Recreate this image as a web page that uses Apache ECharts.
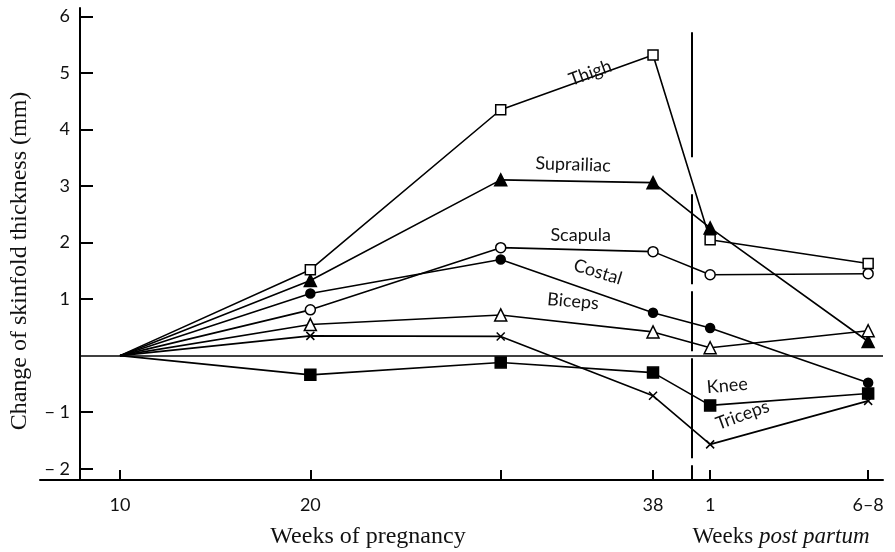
<!DOCTYPE html>
<html lang="en">

<head>
  <meta charset="UTF-8" />
  <title>Skinfold thickness</title>
  <script src="https://cdn.jsdelivr.net/npm/echarts@6/dist/echarts.min.js"></script>
</head>

<body style="margin:0">
  <div id="main" style="width: 895px;height:552px;"></div>
  <script type="text/javascript">
    // x positions (weeks of pregnancy, then post partum points placed after the break)
    var weeks = [10, 20, 30, 38, 41, 49.3]
    var tickLabels = { 10: '10', 20: '20', 38: '38', 41: '1', 49.3: '6–8' }
    var yTicks = [-2, -1, 1, 2, 3, 4, 5, 6]

    // change of skinfold thickness (mm)
    var thigh = [0, 1.52, 4.35, 5.32, 2.05, 1.63]
    var suprailiac = [0, 1.33, 3.11, 3.06, 2.26, 0.25]
    var scapula = [0, 0.81, 1.91, 1.84, 1.43, 1.45]
    var costal = [0, 1.10, 1.70, 0.76, 0.49, -0.48]
    var biceps = [0, 0.55, 0.72, 0.42, 0.14, 0.44]
    var triceps = [0, 0.35, 0.34, -0.71, -1.57, -0.80]
    var knee = [0, -0.34, -0.12, -0.30, -0.88, -0.67]

    // label text -> x, y, rotation
    var notes = {
      Thigh: [34.7, 5.0, 20],
      Suprailiac: [33.8, 3.38, -2],
      Scapula: [34.2, 2.13, 0],
      Costal: [35.1, 1.48, -17],
      Biceps: [33.8, 0.96, -5],
      Knee: [41.9, -0.53, 5],
      Triceps: [42.7, -1.05, 20]
    }

    var cross = 'path://M0,0L10,10M10,0L0,10'
    var labelFont = 'Lato'
    var serif = 'Liberation Serif'

    function makeSeries(name, values, symbol, size, filled) {
      var data = values.map(function (v, i) {
        var p = { value: [weeks[i], v] }
        if (i === 0) p.symbol = 'none'
        return p
      })
      var n = notes[name]
      return {
        name: name,
        type: 'line',
        data: data,
        symbol: symbol,
        symbolSize: size,
        showAllSymbol: true,
        lineStyle: { color: '#000', width: 1.6 },
        itemStyle: {
          color: filled ? '#000' : '#fff',
          borderColor: '#000',
          borderWidth: 1.5
        },
        z: filled ? 3 : 4,
        markPoint: {
          symbol: 'circle',
          symbolSize: 1,
          itemStyle: { color: 'rgba(0,0,0,0)' },
          data: [{ coord: [n[0], n[1]] }],
          label: {
            show: true,
            position: 'inside',
            formatter: name,
            rotate: n[2],
            fontFamily: labelFont,
            fontSize: 18,
            color: '#111'
          }
        }
      }
    }

    var myChart = echarts.init(document.getElementById('main'))
    var option = {
      animation: false,
      backgroundColor: '#fff',
      grid: { left: 40, right: 12, top: 8, bottom: 72 },
      xAxis: {
        type: 'value',
        min: 5.8,
        max: 50.08,
        splitLine: { show: false },
        axisLine: { onZero: false, lineStyle: { color: '#000', width: 2 } },
        axisTick: {
          inside: true,
          length: 10,
          customValues: weeks,
          lineStyle: { color: '#000', width: 2 }
        },
        axisLabel: {
          customValues: [10, 20, 38, 41, 49.3],
          formatter: function (v) { return tickLabels[v] || '' },
          margin: 16,
          fontFamily: labelFont,
          fontSize: 18,
          color: '#111'
        }
      },
      yAxis: {
        type: 'value',
        min: -2.2,
        max: 6.15,
        offset: -40,
        splitLine: { show: false },
        axisLine: { show: true, onZero: false, lineStyle: { color: '#000', width: 2 } },
        axisTick: {
          inside: true,
          length: 13,
          customValues: yTicks,
          lineStyle: { color: '#000', width: 2 }
        },
        axisLabel: {
          customValues: yTicks,
          formatter: function (v) { return v < 0 ? '− ' + (-v) : String(v) },
          margin: 10,
          fontFamily: labelFont,
          fontSize: 18,
          color: '#111'
        }
      },
      series: [
        makeSeries('Thigh', thigh, 'rect', 10, false),
        makeSeries('Suprailiac', suprailiac, 'triangle', 12, true),
        makeSeries('Scapula', scapula, 'circle', 10, false),
        makeSeries('Costal', costal, 'circle', 9, true),
        makeSeries('Biceps', biceps, 'triangle', 12, false),
        makeSeries('Triceps', triceps, cross, 8, false),
        makeSeries('Knee', knee, 'rect', 11, true),
        {
          // zero line and the break between pregnancy and post partum
          type: 'line',
          data: [],
          markLine: {
            symbol: 'none',
            silent: true,
            label: { show: false },
            data: [
              [{ coord: [7.9, 0], lineStyle: { color: '#000', width: 1.6, type: 'solid' } }, { coord: [50.08, 0] }],
              [{ coord: [40.05, 5.72], lineStyle: { color: '#000', width: 2, type: [125, 37, 90, 7, 60, 7, 100, 7] } }, { coord: [40.05, -2.2] }]
            ]
          }
        }
      ],
      graphic: [
        {
          type: 'text', x: 20, y: 261, rotation: Math.PI / 2,
          style: {
            text: 'Change of skinfold thickness (mm)',
            font: '24px "Liberation Serif"',
            fill: '#111', textAlign: 'center', textVerticalAlign: 'middle'
          }
        },
        {
          type: 'text', x: 368, y: 537,
          style: {
            text: 'Weeks of pregnancy',
            font: '24px "Liberation Serif"',
            fill: '#111', textAlign: 'center', textVerticalAlign: 'middle'
          }
        },
        {
          type: 'text', x: 781, y: 537,
          style: {
            text: '{a|Weeks }{b|post partum}',
            rich: {
              a: { fontFamily: serif, fontSize: 23, fill: '#111' },
              b: { fontFamily: serif, fontSize: 23, fontStyle: 'italic', fill: '#111' }
            },
            textAlign: 'center', textVerticalAlign: 'middle'
          }
        }
      ]
    }
    myChart.setOption(option)
  </script>
</body>

</html>
